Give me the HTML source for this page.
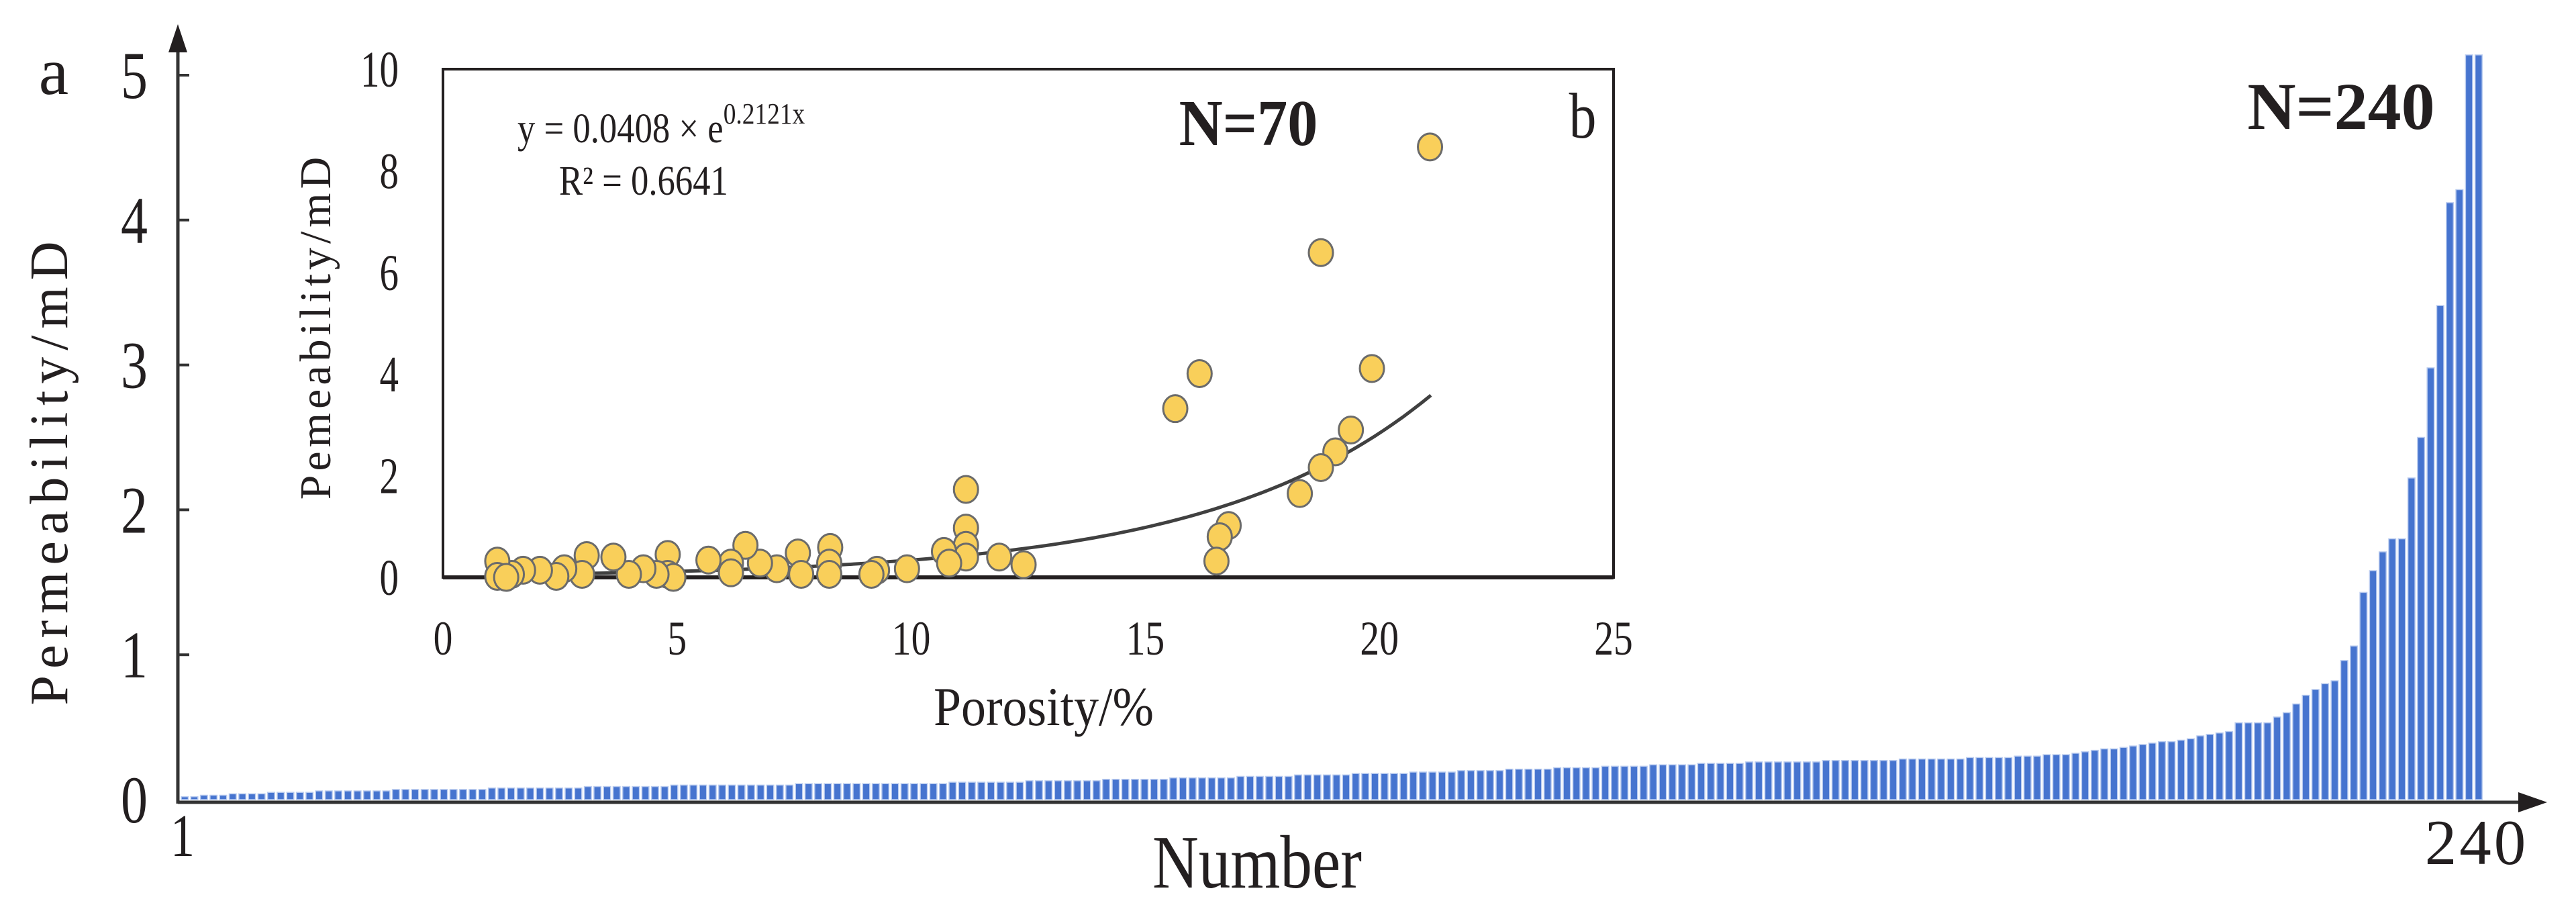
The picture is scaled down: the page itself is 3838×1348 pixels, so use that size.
<!DOCTYPE html>
<html><head><meta charset="utf-8"><style>
html,body{margin:0;padding:0;background:#fff;}
svg{display:block;}
text{font-family:"Liberation Serif",serif;fill:#231f20;}
</style></head>
<body>
<svg id="chart" width="3838" height="1348" viewBox="0 0 3838 1348" xmlns="http://www.w3.org/2000/svg">
<g id="main-bars"></g>
<g id="main-axes"></g>
<g id="inset"></g>
</svg>
<script>
const barValues = [
0.02,0.02,0.03,0.03,0.03,0.04,0.04,0.04,0.04,0.05,
0.05,0.05,0.05,0.05,0.06,0.06,0.06,0.06,0.06,0.06,
0.06,0.06,0.07,0.07,0.07,0.07,0.07,0.07,0.07,0.07,
0.07,0.07,0.08,0.08,0.08,0.08,0.08,0.08,0.08,0.08,
0.08,0.08,0.09,0.09,0.09,0.09,0.09,0.09,0.09,0.09,
0.09,0.10,0.10,0.10,0.10,0.10,0.10,0.10,0.10,0.10,
0.10,0.10,0.10,0.10,0.11,0.11,0.11,0.11,0.11,0.11,
0.11,0.11,0.11,0.11,0.11,0.11,0.11,0.11,0.11,0.11,
0.12,0.12,0.12,0.12,0.12,0.12,0.12,0.12,0.13,0.13,
0.13,0.13,0.13,0.13,0.13,0.13,0.14,0.14,0.14,0.14,
0.14,0.14,0.14,0.15,0.15,0.15,0.15,0.15,0.15,0.15,
0.16,0.16,0.16,0.16,0.16,0.16,0.17,0.17,0.17,0.17,
0.17,0.17,0.18,0.18,0.18,0.18,0.18,0.18,0.19,0.19,
0.19,0.19,0.19,0.20,0.20,0.20,0.20,0.20,0.21,0.21,
0.21,0.21,0.21,0.22,0.22,0.22,0.22,0.22,0.23,0.23,
0.23,0.23,0.23,0.24,0.24,0.24,0.24,0.24,0.25,0.25,
0.25,0.25,0.25,0.26,0.26,0.26,0.26,0.26,0.26,0.26,
0.26,0.27,0.27,0.27,0.27,0.27,0.27,0.27,0.27,0.28,
0.28,0.28,0.28,0.28,0.28,0.28,0.29,0.29,0.29,0.29,
0.29,0.30,0.30,0.30,0.31,0.31,0.31,0.32,0.33,0.34,
0.35,0.35,0.36,0.37,0.38,0.39,0.40,0.40,0.41,0.42,
0.44,0.45,0.46,0.47,0.53,0.53,0.53,0.53,0.57,0.60,
0.66,0.72,0.76,0.80,0.82,0.96,1.06,1.43,1.58,1.71,
1.80,1.80,2.22,2.50,2.98,3.41,4.12,4.21,5.14,5.14];
const mainYTicks = [0,1,2,3,4,5];
const porosity = [21.08,18.75,16.16,15.64,19.84,19.39,19.06,18.75,18.30,16.78,16.59,16.52,
11.17,11.17,11.17,11.17,10.70,10.81,11.88,12.40,9.91,9.27,9.15,8.27,8.25,8.25,7.58,7.65,7.13,6.77,
6.46,6.15,6.15,5.67,4.80,4.80,4.92,4.56,4.28,3.97,3.64,3.07,2.97,2.59,2.42,2.07,1.71,1.47,1.16,1.16,1.35];
const permeability = [8.47,6.39,4.01,3.32,4.11,2.90,2.47,2.16,1.65,1.02,0.80,0.32,
1.73,0.97,0.63,0.40,0.51,0.28,0.40,0.25,0.17,0.14,0.06,0.59,0.28,0.06,0.48,0.06,0.17,0.28,
0.63,0.28,0.09,0.34,0.45,0.06,0.0,0.06,0.17,0.06,0.40,0.43,0.06,0.17,0.02,0.14,0.14,0.06,0.32,0.02,0.0];
const insetXTicks = [0,5,10,15,20,25];
const insetYTicks = [0,2,4,6,8,10];
const fitA = 0.0408, fitB = 0.2121;

const NS = "http://www.w3.org/2000/svg";
function mk(tag, attrs, parent, txt){const e=document.createElementNS(NS,tag);for(const k in attrs)e.setAttribute(k,attrs[k]);if(txt!==undefined)e.textContent=txt;parent.appendChild(e);return e;}
function tx(x,y,sx,attrs,parent,txt){attrs.x=0;attrs.y=0;attrs.transform='translate('+x+','+y+') scale('+sx+',1)';return mk('text',attrs,parent,txt);}

const mX0 = 270, mStep = 14.3, mY0 = 1191, mYs = 215.8;
const mx = i => mX0 + i*mStep;
const my = v => mY0 - v*mYs;

const gb = document.getElementById('main-bars');
barValues.forEach((v,i)=>{
  const r = mk('rect',{x:mx(i),y:my(v),width:10.5,height:v*mYs,fill:'#4674cf',stroke:'#b9cbef','stroke-width':1.5},gb);
  
  
});

const ga = document.getElementById('main-axes');
let e;
e = mk('line',{x1:265,y1:1195,x2:3770,y2:1195,stroke:'#333',"stroke-width":5},ga);

e = mk('polygon',{points:'3795,1195 3752,1180 3752,1210',fill:'#231f20'},ga);

e = mk('line',{x1:265,y1:1197,x2:265,y2:60,stroke:'#333',"stroke-width":5},ga);

e = mk('polygon',{points:'265,36 251,78 279,78',fill:'#231f20'},ga);

mainYTicks.forEach(t=>{
  if(t>0){e=mk('line',{x1:265,y1:my(t),x2:282,y2:my(t),stroke:'#333','stroke-width':4},ga);
  }
  e=tx(200,my(t)+34,0.8,{'font-size':100,'text-anchor':'middle'},ga,String(t));
  
});
e=mk('text',{x:80,y:140,'font-size':100,'text-anchor':'middle'},ga,'a');

e=mk('text',{x:0,y:0,'font-size':80,'text-anchor':'middle','letter-spacing':10,transform:'translate(100,700) rotate(-90)'},ga,'Permeability/mD');

e=tx(1873,1322,0.85,{'font-size':112,'text-anchor':'middle'},ga,'Number');

e=tx(272,1275,0.8,{'font-size':90,'text-anchor':'middle'},ga,'1');

e=mk('text',{x:3690,y:1287,'font-size':95,'text-anchor':'middle','letter-spacing':4},ga,'240');

e=mk('text',{x:3488,y:192,'font-size':100,'font-weight':'bold','text-anchor':'middle'},ga,'N=240');


const gi = document.getElementById('inset');
const iL=660, iR=2404, iT=103, iB=860;
const ix = v => iL + v*(iR-iL)/25;
const iy = v => iB - v*(iB-iT)/10;
e=mk('rect',{x:iL,y:iT,width:iR-iL,height:iB-iT,fill:'#fff',stroke:'#231f20','stroke-width':4},gi);

e=mk('line',{x1:iL,y1:iB,x2:iR,y2:iB,stroke:'#231f20','stroke-width':6},gi);

insetXTicks.forEach(t=>{
  e=tx(ix(t),975,0.8,{'font-size':72,'text-anchor':'middle'},gi,String(t));
  
});
insetYTicks.forEach(t=>{
  e=tx(594,iy(t)+26,0.75,{'font-size':76,'text-anchor':'end'},gi,String(t));
  
});
e=tx(1555,1080,0.9,{'font-size':82,'text-anchor':'middle'},gi,'Porosity/%');

e=mk('text',{x:0,y:0,'font-size':66,'text-anchor':'middle','letter-spacing':6,transform:'translate(492,486) rotate(-90)'},gi,'Pemeability/mD');

let d='';
for(let k=0;k<=100;k++){const x=1.1+k*(21.1-1.1)/100;const y=fitA*Math.exp(fitB*x);d+=(k?'L':'M')+ix(x).toFixed(1)+','+iy(y).toFixed(1);}
e=mk('path',{d:d,fill:'none',stroke:'#404040','stroke-width':5},gi);

porosity.forEach((p,i)=>{
  const c=mk('ellipse',{cx:ix(p),cy:iy(permeability[i]),rx:18,ry:20,fill:'#f9cf5a',stroke:'#6b6b6b','stroke-width':3},gi);
  
  
});
e=tx(771,212,0.85,{'font-size':62},gi);

e.innerHTML='y = 0.0408 × e<tspan dy="-28" font-size="44">0.2121x</tspan>';
e=tx(833,290,0.85,{'font-size':62},gi,'R² = 0.6641');

e=tx(1860,216,0.92,{'font-size':98,'font-weight':'bold','text-anchor':'middle'},gi,'N=70');

e=tx(2358,205,0.85,{'font-size':96,'text-anchor':'middle'},gi,'b');

</script>
</body></html>
